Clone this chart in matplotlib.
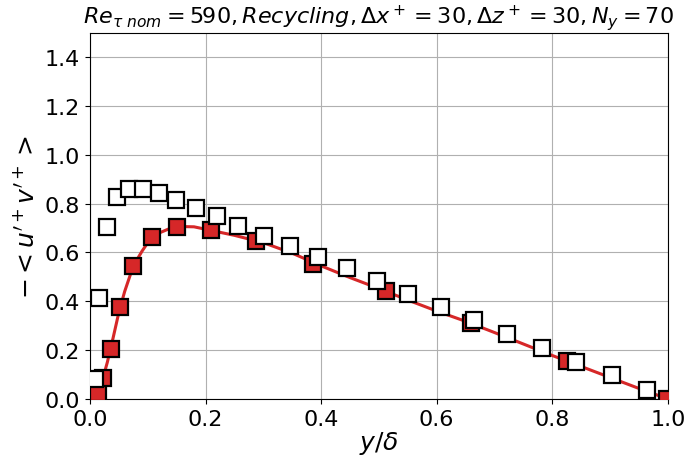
import matplotlib
matplotlib.use("Agg")
import matplotlib.pyplot as plt
import numpy as np

# Reference line (red curve)
line_x = [0.0, 0.01, 0.02, 0.03, 0.04, 0.05, 0.06, 0.07, 0.08, 0.09, 0.10, 0.12, 0.14,
          0.16, 0.18, 0.20, 0.25, 0.30, 0.35, 0.40, 0.45, 0.50, 0.55, 0.60, 0.65, 0.70,
          0.75, 0.80, 0.85, 0.90, 0.95, 1.0]
line_y = [0.0, 0.015, 0.065, 0.15, 0.25, 0.355, 0.44, 0.51, 0.565, 0.605, 0.64, 0.68, 0.70,
          0.706, 0.705, 0.695, 0.67, 0.64, 0.597, 0.545, 0.497, 0.452, 0.405, 0.36, 0.318,
          0.272, 0.225, 0.178, 0.133, 0.088, 0.043, 0.0]

# Filled red squares
red_x = [0.004, 0.014, 0.023, 0.036, 0.052, 0.075, 0.107, 0.150, 0.209, 0.287,
         0.386, 0.512, 0.659, 0.825, 0.998]
red_y = [0.005, 0.023, 0.086, 0.205, 0.376, 0.546, 0.663, 0.706, 0.690, 0.646,
         0.553, 0.443, 0.311, 0.156, 0.0]

# Open squares
open_x = [0.009, 0.016, 0.030, 0.047, 0.067, 0.091, 0.119, 0.149, 0.183, 0.219,
          0.257, 0.301, 0.346, 0.395, 0.444, 0.497, 0.551, 0.607, 0.664, 0.721,
          0.783, 0.842, 0.904, 0.964]
open_y = [0.082, 0.413, 0.704, 0.826, 0.861, 0.858, 0.843, 0.816, 0.783, 0.749,
          0.710, 0.669, 0.628, 0.583, 0.535, 0.485, 0.430, 0.376, 0.325, 0.266,
          0.208, 0.150, 0.096, 0.038]

fig = plt.figure(figsize=(6.87, 4.56), dpi=100)
ax = fig.add_axes([0.131, 0.123, 0.841, 0.803])

ax.plot(line_x, line_y, color='#d62728', lw=2.2, zorder=2)
ax.plot(red_x, red_y, 's', color='#d62728', mec='black', mew=1.6, ms=12, zorder=3)
ax.plot(open_x, open_y, 's', color='white', mec='black', mew=1.6, ms=12, zorder=4)

ax.set_xlim(0, 1.0)
ax.set_ylim(0, 1.5)
ax.set_xticks([0.0, 0.2, 0.4, 0.6, 0.8, 1.0])
ax.set_yticks([0.0, 0.2, 0.4, 0.6, 0.8, 1.0, 1.2, 1.4])
ax.grid(True, color='#b0b0b0', lw=0.8)
ax.set_axisbelow(True)
ax.tick_params(labelsize=16)
ax.set_xlabel(r'$y/\delta$', fontsize=18, labelpad=0)
ax.set_ylabel(r'$-<u^{\prime +}v^{\prime +}>$', fontsize=18)
ax.set_title(r'$Re_{\tau\ nom}=590, Recycling, \Delta x^+=30, \Delta z^+=30, N_y=70$',
             fontsize=16, pad=4)

fig.savefig('out.png', dpi=100)
